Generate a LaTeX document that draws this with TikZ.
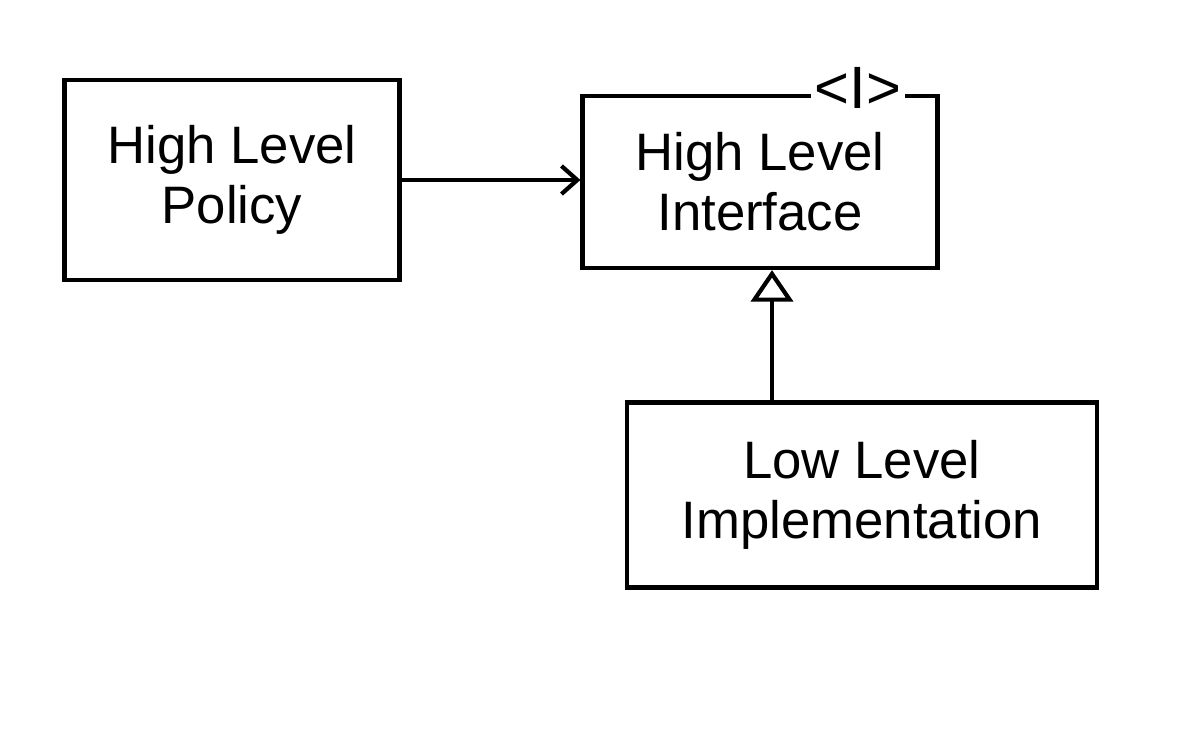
\documentclass[tikz,border=0pt]{standalone}
\usepackage{fontspec}
\setmainfont{Liberation Sans}
\usetikzlibrary{arrows.meta, positioning}

\begin{document}
\begin{tikzpicture}[
    x=0.02cm, y=-0.02cm,
    classbox/.style={draw, line width=2.4pt, align=center, font=\fontsize{30}{34}\selectfont, inner sep=0pt},
    assoc/.style={-{Straight Barb[length=9pt, width=16pt, line width=2.4pt]}, line width=2.4pt},
    realize/.style={-{Triangle[open, length=18pt, width=24pt, line width=2.4pt]}, line width=2.4pt}
]
\useasboundingbox (0,0) rectangle (1200,730);
\node[classbox, minimum width=6.7cm, minimum height=4cm] (policy) at (232,180) {High Level\\Policy};
\node[classbox, minimum width=7.1cm, minimum height=3.44cm] (iface) at (760,182) {High Level\\Interface};
\node[classbox, minimum width=9.4cm, minimum height=3.7cm] (impl) at (862,495) {Low Level\\Implementation};

% interface marker sits on the top border
\node[fill=white, inner sep=2pt, font=\fontsize{34}{36}\selectfont] (mark) at (858,88) {<I>};

\draw[assoc] (policy.east) -- (iface.west |- policy.east);
\draw[realize] (impl.north -| 772,0) -- (iface.south -| 772,0);
\end{tikzpicture}
\end{document}
